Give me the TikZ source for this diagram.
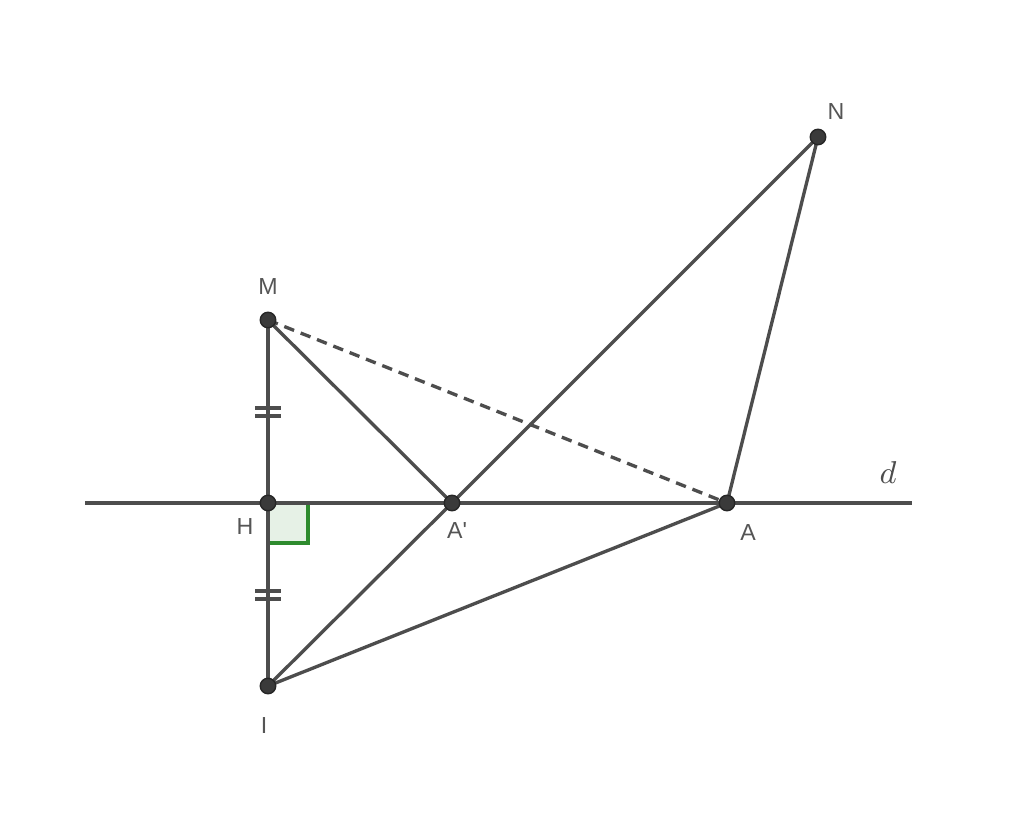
\documentclass[tikz,border=0pt]{standalone}
\usepackage{fontspec}
\setsansfont{Liberation Sans}
\usetikzlibrary{backgrounds}
\definecolor{linegray}{HTML}{4D4D4D}
\definecolor{ptgray}{HTML}{3A3A3A}
\definecolor{labelgray}{HTML}{555555}
\definecolor{rightgreen}{HTML}{2E8B2E}

\begin{document}
\begin{tikzpicture}[
	seg/.style={line width=0.95pt,color=linegray},
	pt/.style={circle,fill=ptgray,draw=black!85,line width=0.4pt,inner sep=0pt,minimum size=0.155cm},
	lbl/.style={font=\sffamily\fontsize{6.6}{8}\selectfont,text=labelgray},
	tick/.style={line width=0.95pt,color=linegray}]
		\useasboundingbox (0,0) rectangle (10.24,8.19);
		% points
		\coordinate (M) at (2.68,4.99);
		\coordinate (H) at (2.68,3.16);
		\coordinate (I) at (2.68,1.33);
		\coordinate (Ap) at (4.52,3.16);
		\coordinate (A) at (7.27,3.16);
		\coordinate (N) at (8.18,6.82);
		\coordinate (dL) at (0.85,3.16);
		\coordinate (dR) at (9.12,3.16);
		\def\rightangle{(H) rectangle ++(0.4,-0.4)}
		% right angle at H
		\draw[rightgreen,fill=rightgreen!12,line width=0.95pt] \rightangle;
		% line d and segments
		\draw[seg] (dL) -- (dR);
		\draw[seg] (M) -- (I);
		\draw[seg] (M) -- (Ap) -- (N) -- (A);
		\draw[seg] (I) -- (Ap);
		\draw[seg] (I) -- (A);
		\draw[seg,dash pattern=on 3pt off 2pt] (M) -- (A);
		% equal marks
		\foreach \y in {4.07,2.24}{
			\draw[tick] (2.55,\y+0.04) -- (2.81,\y+0.04);
			\draw[tick] (2.55,\y-0.04) -- (2.81,\y-0.04);
		}
		% dots
		\foreach \p in {M,H,I,Ap,A,N}
			\node[pt] (\p dot) at (\p) {};
		% labels
		\node[lbl] (Mlbl) at (2.68,5.32) {M};
		\node[lbl] (Hlbl) at (2.45,2.92) {H};
		\node[lbl] (Ilbl) at (2.64,0.93) {I};
		\node[lbl] (Aplbl) at (4.57,2.88) {A\textquotesingle};
		\node[lbl] (Albl) at (7.48,2.86) {A};
		\node[lbl] (Nlbl) at (8.36,7.07) {N};
		\node[font=\fontsize{9.5}{11}\selectfont,text=linegray] (dlbl) at (8.88,3.46) {$d$};
	\end{tikzpicture}
\end{document}
